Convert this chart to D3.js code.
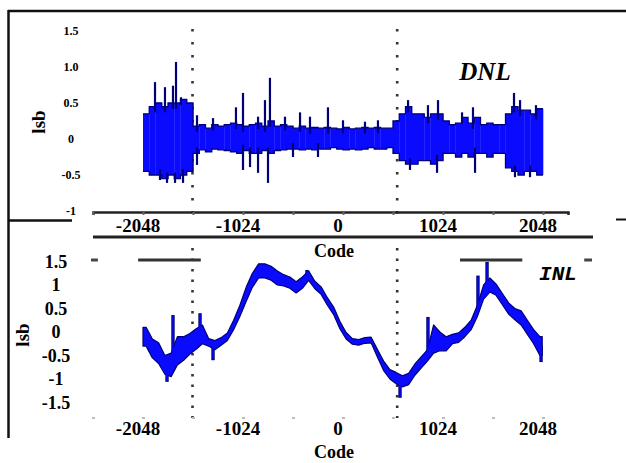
<!DOCTYPE html>
<html>
<head>
<meta charset="utf-8">
<script src="https://cdn.jsdelivr.net/npm/d3@7"></script>
<style>
  body { margin: 0; background: #fff; }
  svg { display: block; }
  text { font-family: "Liberation Serif", "Times New Roman", serif; font-weight: bold; fill: #000; }
</style>
</head>
<body>
<svg width="626" height="463"></svg>
<script>
// code columns, 64 codes wide, -2048 .. 1984
const columns = d3.range(-2048, 2048, 64);

// DNL envelope per column (lsb)
const dnlUpper = [0.35, 0.45, 0.5, 0.45, 0.5, 0.5, 0.55, 0.5,
  0.18, 0.2, 0.15, 0.2, 0.18, 0.2, 0.22, 0.2,
  0.18, 0.2, 0.22, 0.18, 0.25, 0.18, 0.2, 0.18,
  0.15, 0.18, 0.15, 0.16, 0.15, 0.16, 0.15, 0.14,
  0.16, 0.14, 0.15, 0.16, 0.15, 0.16, 0.15, 0.15,
  0.25, 0.35, 0.45, 0.35, 0.35, 0.3, 0.35, 0.35,
  0.25, 0.2, 0.22, 0.3, 0.22, 0.3, 0.2, 0.22,
  0.2, 0.2, 0.35, 0.45, 0.4, 0.4, 0.35, 0.42];
const dnlLower = [-0.45, -0.5, -0.5, -0.55, -0.5, -0.55, -0.5, -0.45,
  -0.2, -0.15, -0.18, -0.14, -0.15, -0.16, -0.18, -0.2,
  -0.16, -0.2, -0.2, -0.16, -0.2, -0.16, -0.15, -0.14,
  -0.14, -0.15, -0.14, -0.15, -0.14, -0.14, -0.12, -0.14,
  -0.15, -0.14, -0.15, -0.14, -0.12, -0.14, -0.14, -0.12,
  -0.2, -0.3, -0.35, -0.35, -0.3, -0.3, -0.35, -0.3,
  -0.2, -0.2, -0.25, -0.2, -0.25, -0.2, -0.2, -0.25,
  -0.2, -0.2, -0.4, -0.45, -0.5, -0.45, -0.45, -0.5];
// DNL spikes: [code, lsb]
const dnlSpikes = [[-1925, 0.79], [-1823, 0.72], [-1741, 0.74], [-1710, 1.07], [-1659, 0.58],
  [-1495, 0.33], [-1331, 0.29], [-1096, 0.44], [-1024, 0.64], [-870, 0.31], [-799, 0.54],
  [-748, 0.85], [-594, 0.31], [-440, 0.37], [-338, 0.31], [-154, 0.44], [0, 0.26],
  [225, 0.24], [358, 0.26], [666, 0.54], [870, 0.47], [973, 0.54], [1219, 0.37],
  [1331, 0.44], [1751, 0.64], [1813, 0.54], [1976, 0.47],
  [-1874, -0.57], [-1802, -0.61], [-1720, -0.61], [-1638, -0.61], [-1495, -0.36],
  [-1024, -0.43], [-952, -0.39], [-870, -0.47], [-768, -0.61], [-512, -0.25],
  [-256, -0.25], [686, -0.43], [963, -0.47], [1352, -0.47], [1761, -0.53], [1915, -0.53]];

// INL per column: centre and half width (lsb)
const inlMid = [-0.1, -0.35, -0.45, -0.7, -0.7, -0.4, -0.35, -0.25,
  -0.15, -0.05, -0.22, -0.28, -0.2, -0.1, 0.15, 0.45,
  0.8, 1.1, 1.3, 1.3, 1.25, 1.15, 1.1, 1.05,
  0.95, 1.05, 1.2, 1.0, 0.88, 0.65, 0.45, 0.15,
  -0.08, -0.2, -0.22, -0.18, -0.17, -0.45, -0.72, -0.9,
  -0.98, -1.05, -1.0, -0.8, -0.65, -0.5, -0.15, -0.2,
  -0.25, -0.15, -0.12, 0.0, 0.15, 0.45, 0.85, 1.0,
  0.9, 0.7, 0.5, 0.38, 0.3, 0.1, -0.1, -0.3];
const inlHalf = [0.2, 0.2, 0.22, 0.2, 0.25, 0.3, 0.25, 0.22,
  0.22, 0.2, 0.08, 0.1, 0.08, 0.08, 0.1, 0.12,
  0.15, 0.15, 0.15, 0.15, 0.15, 0.15, 0.12, 0.12,
  0.12, 0.12, 0.1, 0.08, 0.08, 0.08, 0.08, 0.08,
  0.07, 0.06, 0.06, 0.06, 0.06, 0.08, 0.1, 0.1,
  0.12, 0.12, 0.12, 0.12, 0.12, 0.12, 0.3, 0.2,
  0.15, 0.1, 0.1, 0.1, 0.1, 0.12, 0.15, 0.15,
  0.12, 0.12, 0.12, 0.12, 0.15, 0.15, 0.15, 0.2];
const inlSpikes = [[-1802, -1.06], [-1741, 0.36], [-1464, 0.4], [-1331, -0.6], [-369, 1.32],
  [584, -1.4], [870, 0.32], [1382, 1.2], [1475, 1.49], [2028, -0.64]];

const xTicks = [-2048, -1024, 0, 1024, 2048];
const minorTicks = d3.range(-2560, 2049, 512);
const dnlTicks = [1.5, 1.0, 0.5, 0, -0.5, -1];
const dnlTickLabels = ["1.5", "1.0", "0.5", "0", "-0.5", "-1"];
const inlTicks = [1.5, 1, 0.5, 0, -0.5, -1, -1.5];
const inlTickLabels = ["1.5", "1", "0.5", "0", "-0.5", "-1", "-1.5"];
const markerCodes = [-1536, 560];

const blue = "#0a0aff", navy = "#000078";
const svg = d3.select("svg");

const x = d3.scaleLinear().domain([-2048, 2048]).range([143, 543]);
const yD = d3.scaleLinear().domain([0, 1]).range([139, 67]);
const yI = d3.scaleLinear().domain([0, 1]).range([332, 285]);
const colOf = c => Math.max(0, Math.min(63, Math.floor((c + 2048) / 64)));

// frame
svg.append("line").attr("x1", 8).attr("x2", 626).attr("y1", 11).attr("y2", 11)
  .attr("stroke", "#111").attr("stroke-width", 2.5);
svg.append("line").attr("x1", 8.5).attr("x2", 8.5).attr("y1", 10).attr("y2", 438)
  .attr("stroke", "#111").attr("stroke-width", 2.5);
svg.append("line").attr("x1", 8).attr("x2", 72).attr("y1", 220.5).attr("y2", 220.5)
  .attr("stroke", "#111").attr("stroke-width", 2.5);
svg.append("line").attr("x1", 616).attr("x2", 626).attr("y1", 219.5).attr("y2", 219.5)
  .attr("stroke", "#111").attr("stroke-width", 2);

// dotted markers
function markers(y0, y1, dash) {
  svg.append("g").selectAll("line").data(markerCodes).join("line")
    .attr("x1", d => x(d) - 0.5).attr("x2", d => x(d) - 0.5)
    .attr("y1", y0).attr("y2", y1)
    .attr("stroke", "#333").attr("stroke-width", 2.6)
    .attr("stroke-dasharray", dash);
}
markers(29, 214, "2.5,10.5");
markers(248, 418, "2.5,8");

// ---- DNL ----
const dnl = svg.append("g");
dnl.selectAll("rect").data(columns).join("rect")
  .attr("x", d => x(d))
  .attr("width", x(64) - x(0) + 0.3)
  .attr("y", (d, i) => yD(dnlUpper[i]))
  .attr("height", (d, i) => yD(dnlLower[i]) - yD(dnlUpper[i]))
  .attr("fill", blue);

const stepLine = d3.line().curve(d3.curveStepAfter).x(d => x(d[0]));
function edge(g, vals) {
  const pts = columns.map((c, i) => [c, vals[i]]);
  pts.push([2048, vals[vals.length - 1]]);
  g.append("path").datum(pts)
    .attr("d", stepLine.y(d => yD(d[1])))
    .attr("fill", "none").attr("stroke", navy).attr("stroke-width", 1.3);
}
edge(dnl, dnlUpper);
edge(dnl, dnlLower);

dnl.selectAll("line.spike").data(dnlSpikes).join("line")
  .attr("class", "spike")
  .attr("x1", d => x(d[0])).attr("x2", d => x(d[0]))
  .attr("y1", d => yD(d[1]))
  .attr("y2", d => yD(d[1] > 0 ? dnlUpper[colOf(d[0])] - 0.08 : dnlLower[colOf(d[0])] + 0.08))
  .attr("stroke", navy).attr("stroke-width", 2.2);

// ---- INL ----
const inl = svg.append("g");
const inlPts = columns.map((c, i) => ({ code: c + 32, mid: inlMid[i], half: inlHalf[i] }));
inlPts.unshift({ code: -2048, mid: inlMid[0], half: inlHalf[0] });
inlPts.push({ code: 2040, mid: inlMid[63], half: inlHalf[63] });
const inlArea = d3.area()
  .x(d => x(d.code))
  .y0(d => yI(d.mid - d.half))
  .y1(d => yI(d.mid + d.half));

inl.selectAll("line.spike").data(inlSpikes).join("line")
  .attr("class", "spike")
  .attr("x1", d => x(d[0])).attr("x2", d => x(d[0]))
  .attr("y1", d => yI(d[1]))
  .attr("y2", d => yI(inlMid[colOf(d[0])]))
  .attr("stroke", navy).attr("stroke-width", 3.4);
inl.append("path").datum(inlPts)
  .attr("d", inlArea)
  .attr("fill", blue)
  .attr("stroke", navy).attr("stroke-width", 1.2).attr("stroke-linejoin", "round");
inl.selectAll("line.core").data(inlSpikes).join("line")
  .attr("class", "core")
  .attr("x1", d => x(d[0])).attr("x2", d => x(d[0]))
  .attr("y1", d => yI(d[1]) + (d[1] > 0 ? 1 : -1))
  .attr("y2", d => yI(inlMid[colOf(d[0])]))
  .attr("stroke", blue).attr("stroke-width", 1.4);

// ---- axes ----
const xFull = d3.scaleLinear().domain([-2560, 2304]).range([x(-2560), x(2304)]);
const topAxis = svg.append("g").attr("transform", "translate(0,212)")
  .call(d3.axisBottom(xFull).tickValues(minorTicks).tickSize(3).tickFormat(""));
topAxis.select(".domain").attr("stroke", "#222").attr("stroke-width", 2.5);
topAxis.selectAll(".tick line").attr("stroke", "#666").attr("stroke-width", 2);

const botAxis = svg.append("g").attr("transform", "translate(0,417)")
  .call(d3.axisBottom(xFull).tickValues(minorTicks).tickSize(2).tickFormat(""));
botAxis.select(".domain").remove();
botAxis.selectAll(".tick line").attr("stroke", "#bbb").attr("stroke-width", 3);

svg.append("line").attr("x1", x(-2560)).attr("x2", x(2560)).attr("y1", 237).attr("y2", 237)
  .attr("stroke", "#222").attr("stroke-width", 2.8);

// INL reference bars
svg.append("g").selectAll("line").data([[-2098, -1456], [1198, 1836]]).join("line")
  .attr("x1", d => x(d[0])).attr("x2", d => x(d[1]))
  .attr("y1", 260).attr("y2", 260)
  .attr("stroke", "#333").attr("stroke-width", 3);
svg.append("g").selectAll("line").data([[-2580, -2510], [2470, 2550]]).join("line")
  .attr("x1", d => x(d[0])).attr("x2", d => x(d[1]))
  .attr("y1", 260).attr("y2", 260)
  .attr("stroke", "#444").attr("stroke-width", 3);

// tick labels
function xLabels(y) {
  svg.append("g").selectAll("text").data(xTicks).join("text")
    .attr("x", d => x(d) - 5).attr("y", y)
    .attr("text-anchor", "middle").attr("font-size", 19)
    .text(d => d);
}
xLabels(232);
xLabels(435);

svg.append("g").selectAll("text").data(dnlTicks).join("text")
  .attr("x", 71).attr("y", d => yD(d)).attr("dy", "0.35em")
  .attr("text-anchor", "middle").attr("font-size", 12)
  .text((d, i) => dnlTickLabels[i]);
svg.append("g").selectAll("text").data(inlTicks).join("text")
  .attr("x", 56).attr("y", d => yI(d)).attr("dy", "0.35em")
  .attr("text-anchor", "middle").attr("font-size", 18)
  .text((d, i) => inlTickLabels[i]);

// titles
svg.append("text").attr("transform", "translate(45,122) rotate(-90)")
  .attr("text-anchor", "middle").attr("font-size", 19).text("lsb");
svg.append("text").attr("transform", "translate(29,335) rotate(-90)")
  .attr("text-anchor", "middle").attr("font-size", 19).text("lsb");
svg.append("text").attr("x", 334).attr("y", 257)
  .attr("text-anchor", "middle").attr("font-size", 18).text("Code");
svg.append("text").attr("x", 334).attr("y", 458)
  .attr("text-anchor", "middle").attr("font-size", 18).text("Code");
svg.append("text").attr("x", 485).attr("y", 80)
  .attr("text-anchor", "middle").attr("font-size", 25).attr("font-style", "italic").text("DNL");
svg.append("text").attr("x", 558).attr("y", 280)
  .attr("text-anchor", "middle").attr("font-size", 21).attr("font-style", "italic")
  .style("font-family", "'Liberation Mono', monospace").text("INL");
</script>
</body>
</html>
